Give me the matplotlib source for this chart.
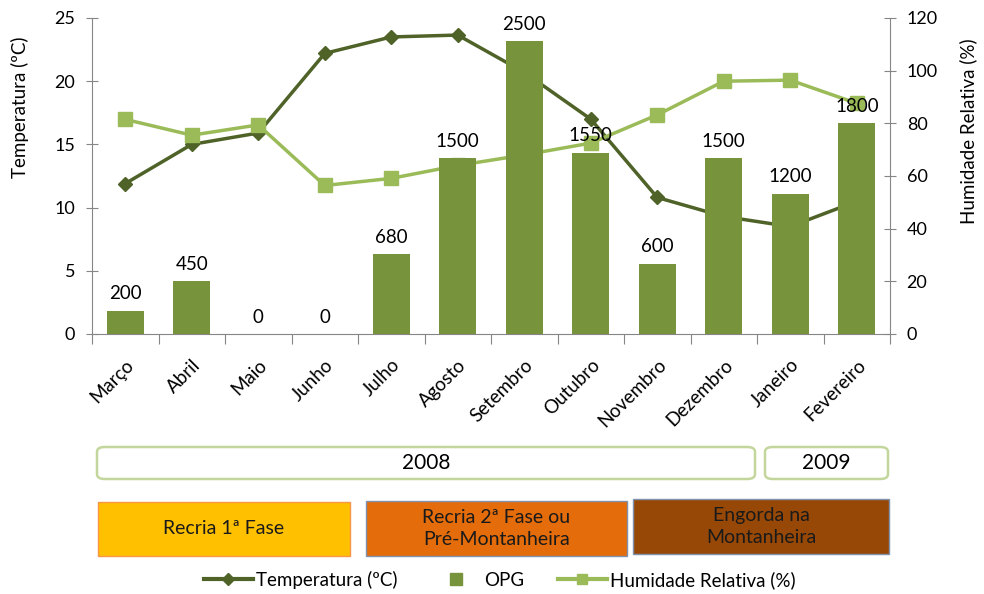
import numpy as np
import matplotlib
matplotlib.use("Agg")
import matplotlib.pyplot as plt
from matplotlib.patches import FancyBboxPatch, Rectangle
from matplotlib.lines import Line2D

plt.rcParams['font.family'] = ['Lato', 'DejaVu Sans']

meses = ["Março", "Abril", "Maio", "Junho", "Julho", "Agosto", "Setembro",
         "Outubro", "Novembro", "Dezembro", "Janeiro", "Fevereiro"]
temperatura = [11.9, 15.0, 15.9, 22.2, 23.5, 23.65, 20.7, 17.0, 10.8, 9.3, 8.5, 10.5]
opg = [200, 450, 0, 0, 680, 1500, 2500, 1550, 600, 1500, 1200, 1800]
humidade = [81.5, 75.5, 79.4, 56.4, 59.1, 64.0, 68.0, 72.5, 83.2, 96.0, 96.4, 87.6]

c_temp = "#4F6228"
c_opg = "#77933C"
c_hum = "#9BBB59"
c_axis = "#868686"

W, H = 984, 594
fig = plt.figure(figsize=(W / 100, H / 100), dpi=100)

def fx(px):
    return px / W

def fy(py):
    return 1 - py / H

ax = fig.add_axes([fx(92), fy(334), fx(890) - fx(92), fy(18) - fy(334)])
x = np.arange(len(meses))

ax.plot(x, temperatura, color=c_temp, lw=2.5, marker="D", ms=7, zorder=3)
ax.set_ylim(0, 25)
ax.set_xlim(-0.5, len(meses) - 0.5)
ax.set_yticks(range(0, 26, 5))

ax2 = ax.twinx()
ax2.plot(x, humidade, color=c_hum, lw=2.5, marker="s", ms=10)
ax2.set_ylim(0, 120)
ax2.set_yticks(range(0, 121, 20))

ax3 = ax.twinx()
ax3.bar(x, opg, width=0.56, color=c_opg)
ax3.set_ylim(0, 2700)
ax3.axis("off")
for xi, v in zip(x, opg):
    ax3.annotate(str(v), (xi, v), xytext=(0, 6), textcoords="offset points",
                 ha="center", va="bottom", fontsize=13.5)

for a in (ax, ax2):
    for s in a.spines.values():
        s.set_visible(False)
    a.tick_params(colors=c_axis, labelcolor="black", labelsize=13)
ax.spines["left"].set_visible(True)
ax.spines["left"].set_color(c_axis)
ax.spines["bottom"].set_visible(True)
ax.spines["bottom"].set_color(c_axis)
ax2.spines["right"].set_visible(True)
ax2.spines["right"].set_color(c_axis)
ax.tick_params(axis="y", direction="inout", length=8, pad=8)
ax2.tick_params(axis="y", direction="inout", length=8, pad=8)

ax.set_xticks(np.arange(-0.5, len(meses), 1))
ax.set_xticklabels([])
ax.set_xticks(x, minor=True)
ax.set_xticklabels(meses, minor=True, rotation=45, ha="right",
                   rotation_mode="anchor", fontsize=13.5)
ax.tick_params(axis="x", which="major", direction="out", length=7, colors=c_axis)
ax.tick_params(axis="x", which="minor", length=0, pad=16)

# titulos dos eixos
fig.text(fx(20), fy(107), "Temperatura (ºC)", rotation=90, ha="center", va="center",
         fontsize=13.5)
fig.text(fx(968), fy(131), "Humidade Relativa (%)", rotation=90, ha="center",
         va="center", fontsize=13.5)

# caixas dos anos
for x0, x1, txt in [(97, 755, "2008"), (765, 888, "2009")]:
    box = FancyBboxPatch((fx(x0), fy(479)), fx(x1) - fx(x0), fy(447) - fy(479),
                         boxstyle="round,pad=0,rounding_size=0.008",
                         transform=fig.transFigure, facecolor="white",
                         edgecolor="#C3D69B", lw=1.8)
    fig.patches.append(box)
    fig.text(fx((x0 + x1) / 2), fy(463), txt, ha="center", va="center", fontsize=15)

# fases
fases = [(98, 350, 502, 556, "#FFC000", "#F79646", "Recria 1ª Fase"),
         (366, 627, 501, 556, "#E46C0A", "#7F93AF", "Recria 2ª Fase ou\nPré-Montanheira"),
         (633, 889, 499, 554, "#974806", "#7F93AF", "Engorda na\nMontanheira")]
for x0, x1, y0, y1, fc, ec, txt in fases:
    r = Rectangle((fx(x0), fy(y1)), fx(x1) - fx(x0), fy(y0) - fy(y1),
                  transform=fig.transFigure, facecolor=fc, edgecolor=ec, lw=1)
    fig.patches.append(r)
    fig.text(fx((x0 + x1) / 2), fy((y0 + y1) / 2), txt, ha="center", va="center",
             fontsize=14, linespacing=1.35, color="#1a1a1a")

handles = [Line2D([], [], color=c_temp, lw=3, marker="D", ms=6),
           Line2D([], [], color=c_opg, lw=0, marker="s", ms=9),
           Line2D([], [], color=c_hum, lw=3, marker="s", ms=7)]
fig.legend(handles, ["Temperatura (ºC)", "OPG", "Humidade Relativa (%)"],
           loc="center", bbox_to_anchor=(fx(500), fy(580)), ncol=3, frameon=False,
           fontsize=13.5, handlelength=2.6, handletextpad=0.2, columnspacing=1.8,
           borderpad=0)

fig.savefig("out.png", dpi=100)
